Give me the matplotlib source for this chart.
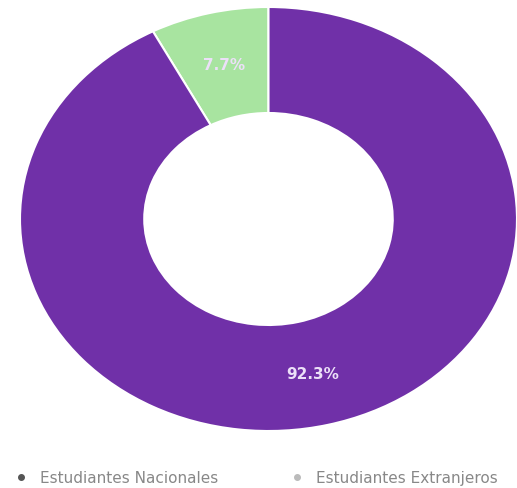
import matplotlib.pyplot as plt
from matplotlib.lines import Line2D

# data
labels = ['Estudiantes Nacionales', 'Estudiantes Extranjeros']
values = [92.3, 7.7]
colors = ['#7030a8', '#a8e4a0']

fig = plt.figure(figsize=(5.17, 4.89), dpi=100)
ax = fig.add_axes([20 / 517, 57 / 489, 497 / 517, 424 / 489])

# draw green first so it sits left of 12 o'clock
wedges, texts, autotexts = ax.pie(
    values[::-1], colors=colors[::-1], startangle=90, counterclock=True,
    autopct='%1.1f%%', pctdistance=0.75,
    wedgeprops=dict(width=0.5, edgecolor='white', linewidth=1.5),
    textprops=dict(color='#ece0f8', fontsize=11, fontweight='bold'),
)
ax.set_aspect('auto')
ax.set_xlim(-1, 1)
ax.set_ylim(-1, 1)

handles = [
    Line2D([], [], marker='o', linestyle='', color='#555555', markersize=4),
    Line2D([], [], marker='o', linestyle='', color='#bbbbbb', markersize=4),
]
fig.legend(handles, labels, loc='lower left', bbox_to_anchor=(-0.015, -0.022),
           ncol=2, frameon=False, fontsize=11, labelcolor='#888888',
           handletextpad=0.2, columnspacing=4.2)

fig.savefig('out.png', dpi=100)
